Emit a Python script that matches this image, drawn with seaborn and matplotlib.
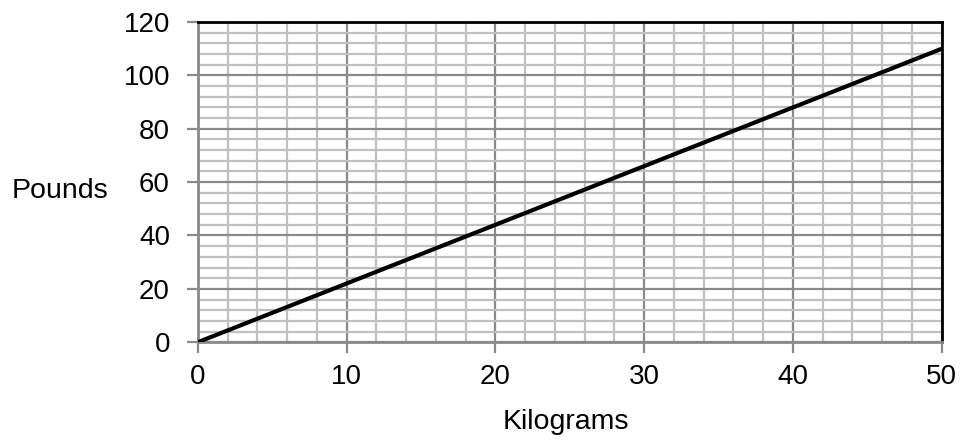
import numpy as np
import pandas as pd
import matplotlib
matplotlib.use("Agg")
import matplotlib.pyplot as plt
from matplotlib.ticker import MultipleLocator
import seaborn as sns

# data
kilograms = [0, 50]
pounds = [0, 110]

sns.set_style("white")
plt.rcParams['font.family'] = ['Liberation Sans', 'DejaVu Sans']
plt.rcParams['text.color'] = 'black'
plt.rcParams['axes.labelcolor'] = 'black'
plt.rcParams['xtick.labelcolor'] = 'black'
plt.rcParams['ytick.labelcolor'] = 'black'

df = pd.DataFrame({'Kilograms': kilograms, 'Pounds': pounds})

fig = plt.figure(figsize=(9.6, 4.41), dpi=100)
ax = fig.add_axes([0.206, 0.224, 0.775, 0.726])

sns.lineplot(data=df, x='Kilograms', y='Pounds', ax=ax, color='black', linewidth=3, zorder=5)

ax.set_xlim(0, 50)
ax.set_ylim(0, 120)
ax.xaxis.set_major_locator(MultipleLocator(10))
ax.xaxis.set_minor_locator(MultipleLocator(2))
ax.yaxis.set_major_locator(MultipleLocator(20))
ax.yaxis.set_minor_locator(MultipleLocator(4))

ax.grid(which='minor', color='#c0c0c0', linewidth=1.6)
ax.grid(which='major', color='#8a8a8a', linewidth=1.6)
ax.set_axisbelow(True)

ax.tick_params(which='major', direction='out', length=8, width=1.6, color='#8a8a8a',
               labelsize=20, labelcolor='black', left=True, bottom=True)
ax.tick_params(axis='y', pad=12)
ax.tick_params(axis='x', pad=8)
ax.tick_params(which='minor', length=0)

ax.spines['top'].set_color('black')
ax.spines['top'].set_linewidth(2)
ax.spines['right'].set_color('black')
ax.spines['right'].set_linewidth(2)
ax.spines['left'].set_color('#8a8a8a')
ax.spines['left'].set_linewidth(2)
ax.spines['bottom'].set_color('#8a8a8a')
ax.spines['bottom'].set_linewidth(2)

ax.set_xlabel('Kilograms', fontsize=20.5, va='center', color='black')
ax.set_ylabel('Pounds', fontsize=20.5, rotation=0, va='center', ha='center', color='black')
ax.xaxis.set_label_coords(0.495, -0.25)
ax.yaxis.set_label_coords(-0.185, 0.472)

plt.savefig('out.png', dpi=100)
